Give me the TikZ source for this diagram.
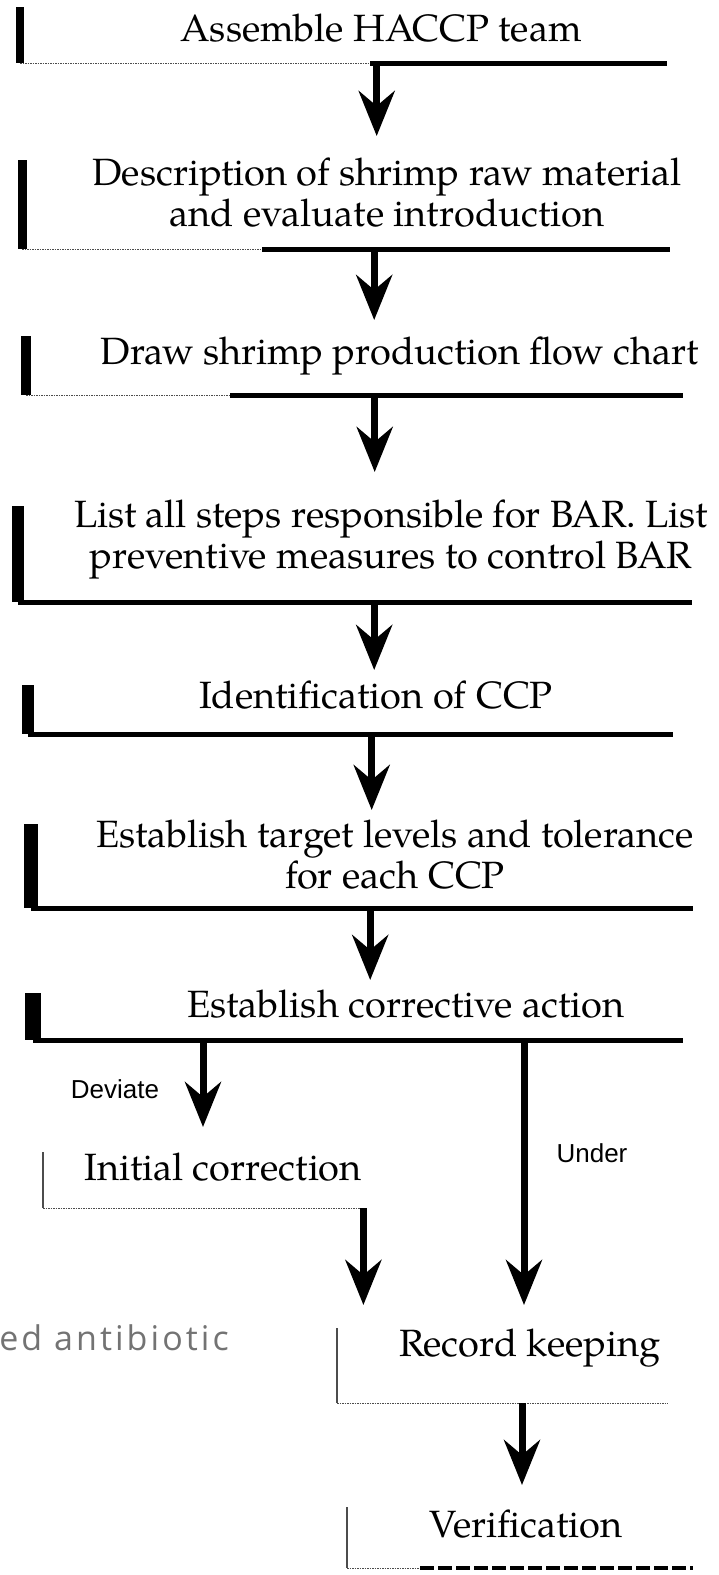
\documentclass[tikz,border=0pt]{standalone}
\usepackage{fontspec}
\newfontfamily\stepfont{texgyrepagella-regular.otf}
\newfontfamily\labelfont{Liberation Sans}
\newfontfamily\ghostfont[LetterSpace=9]{Open Sans}
\usetikzlibrary{arrows.meta,positioning}

\begin{document}
\begin{tikzpicture}[x=1pt, y=-1pt,
  stepbox/.style={inner sep=0pt, anchor=north west},
  steptext/.style={font=\stepfont\fontsize{38}{41}\selectfont, align=center, inner sep=0pt},
  sidelabel/.style={font=\labelfont\fontsize{26}{28}\selectfont, inner sep=0pt},
  floor/.style={line width=4.5pt},
  floorfaint/.style={line width=1.5pt, densely dotted, black!70},
  flow/.style={line width=7pt, -{Stealth[length=45pt,width=36pt,inset=15pt]}}]

  \useasboundingbox (0,0) rectangle (718,1575);

  % frames of the steps
  \node[stepbox, minimum width=647pt, minimum height=56pt] (b1) at (20,7) {};
  \node[stepbox, minimum width=648pt, minimum height=89pt] (b2) at (22,160) {};
  \node[stepbox, minimum width=657pt, minimum height=59pt] (b3) at (26,336) {};
  \node[stepbox, minimum width=674pt, minimum height=96pt] (b4) at (18,506) {};
  \node[stepbox, minimum width=645pt, minimum height=49pt] (b5) at (28,685) {};
  \node[stepbox, minimum width=662pt, minimum height=84pt] (b6) at (31,824) {};
  \node[stepbox, minimum width=650pt, minimum height=47pt] (b7) at (33,993) {};
  \node[stepbox, minimum width=321pt, minimum height=56pt] (b8) at (43,1152) {};
  \node[stepbox, minimum width=331pt, minimum height=75pt] (b9) at (337,1328) {};
  \node[stepbox, minimum width=346pt, minimum height=61pt] (b10) at (347,1507) {};

  % texts
  \node[steptext] (team) at (381,28) {Assemble HACCP team};
  \node[steptext] (describe) at (387,193) {Description of shrimp raw material\\and evaluate introduction};
  \node[steptext] (chart) at (400,356) {Draw shrimp production flow chart};
  \node[steptext] (steps) at (391,539) {List all steps responsible for BAR. List\\preventive measures to control BAR};
  \node[steptext] (ccp) at (376,695) {Identification of CCP};
  \node[steptext] (target) at (395,855) {Establish target levels and tolerance\\for each CCP};
  \node[steptext] (action) at (406,1004) {Establish corrective action};
  \node[steptext] (initial) at (223,1167) {Initial correction};
  \node[steptext] (record) at (530,1348) {Record keeping};
  \node[steptext] (verify) at (526,1524) {Verification};

  \node[font=\ghostfont\fontsize{34}{38}\selectfont, text=black!55, inner sep=0pt, anchor=base east] (ghost) at (229,1350) {ed antibiotic};

  % left bars and floors
  \draw[line width=8pt] (b1.north west) -- (b1.south west);
  \draw[floorfaint] (b1.south west) -- ([xshift=350pt]b1.south west);
  \draw[floor] ([xshift=350pt]b1.south west) -- (b1.south east);

  \draw[line width=9pt] (b2.north west) -- (b2.south west);
  \draw[floorfaint] (b2.south west) -- ([xshift=240pt]b2.south west);
  \draw[floor] ([xshift=240pt]b2.south west) -- (b2.south east);

  \draw[line width=10pt] (b3.north west) -- (b3.south west);
  \draw[floorfaint] (b3.south west) -- ([xshift=204pt]b3.south west);
  \draw[floor] ([xshift=204pt]b3.south west) -- (b3.south east);

  \draw[line width=12pt] (b4.north west) -- (b4.south west);
  \draw[floor] (b4.south west) -- (b4.south east);

  \draw[line width=12pt] (b5.north west) -- (b5.south west);
  \draw[floor] (b5.south west) -- (b5.south east);

  \draw[line width=14pt] (b6.north west) -- (b6.south west);
  \draw[floor] (b6.south west) -- (b6.south east);

  \draw[line width=16pt] (b7.north west) -- (b7.south west);
  \draw[floor] (b7.south west) -- (b7.south east);

  \draw[line width=2pt, black!70] (b8.north west) -- (b8.south west);
  \draw[floorfaint] (b8.south west) -- (b8.south east);

  \draw[line width=2pt, black!70] (b9.north west) -- (b9.south west);
  \draw[floorfaint] (b9.south west) -- (b9.south east);

  \draw[line width=2pt, black!70] (b10.north west) -- (b10.south west);
  \draw[floorfaint] (b10.south west) -- ([xshift=73pt]b10.south west);
  \draw[line width=4pt, dash pattern=on 14pt off 4pt] ([xshift=73pt]b10.south west) -- (b10.south east);

  % arrows
  \draw[flow, shorten >=24pt] ([xshift=33pt]b1.south) -- ([xshift=33pt]b1.south |- b2.north);
  \draw[flow, shorten >=16pt] ([xshift=28pt]b2.south) -- ([xshift=28pt]b2.south |- b3.north);
  \draw[flow, shorten >=34pt] ([xshift=20pt]b3.south) -- ([xshift=20pt]b3.south |- b4.north);
  \draw[flow, shorten >=15pt] ([xshift=19pt]b4.south) -- ([xshift=19pt]b4.south |- b5.north);
  \draw[flow, shorten >=14pt] ([xshift=21pt]b5.south) -- ([xshift=21pt]b5.south |- b6.north);
  \draw[flow, shorten >=13pt] ([xshift=8pt]b6.south) -- ([xshift=8pt]b6.south |- b7.north);
  \draw[flow, shorten >=25pt] ([xshift=170pt]b7.south west) -- ([xshift=170pt]b7.south west |- b8.north);
  \draw[flow, shorten >=23pt] ([xshift=491pt]b7.south west) -- ([xshift=491pt]b7.south west |- b9.north);
  \draw[flow, shorten >=23pt] ([xshift=-1pt]b8.south east) -- ([xshift=-1pt]b8.south east |- b9.north);
  \draw[flow, shorten >=22pt] ([xshift=185pt]b9.south west) -- ([xshift=185pt]b9.south west |- b10.north);

  \node[sidelabel] (deviate) at (115,1089) {Deviate};
  \node[sidelabel] (under) at (592,1153) {Under};
\end{tikzpicture}
\end{document}
